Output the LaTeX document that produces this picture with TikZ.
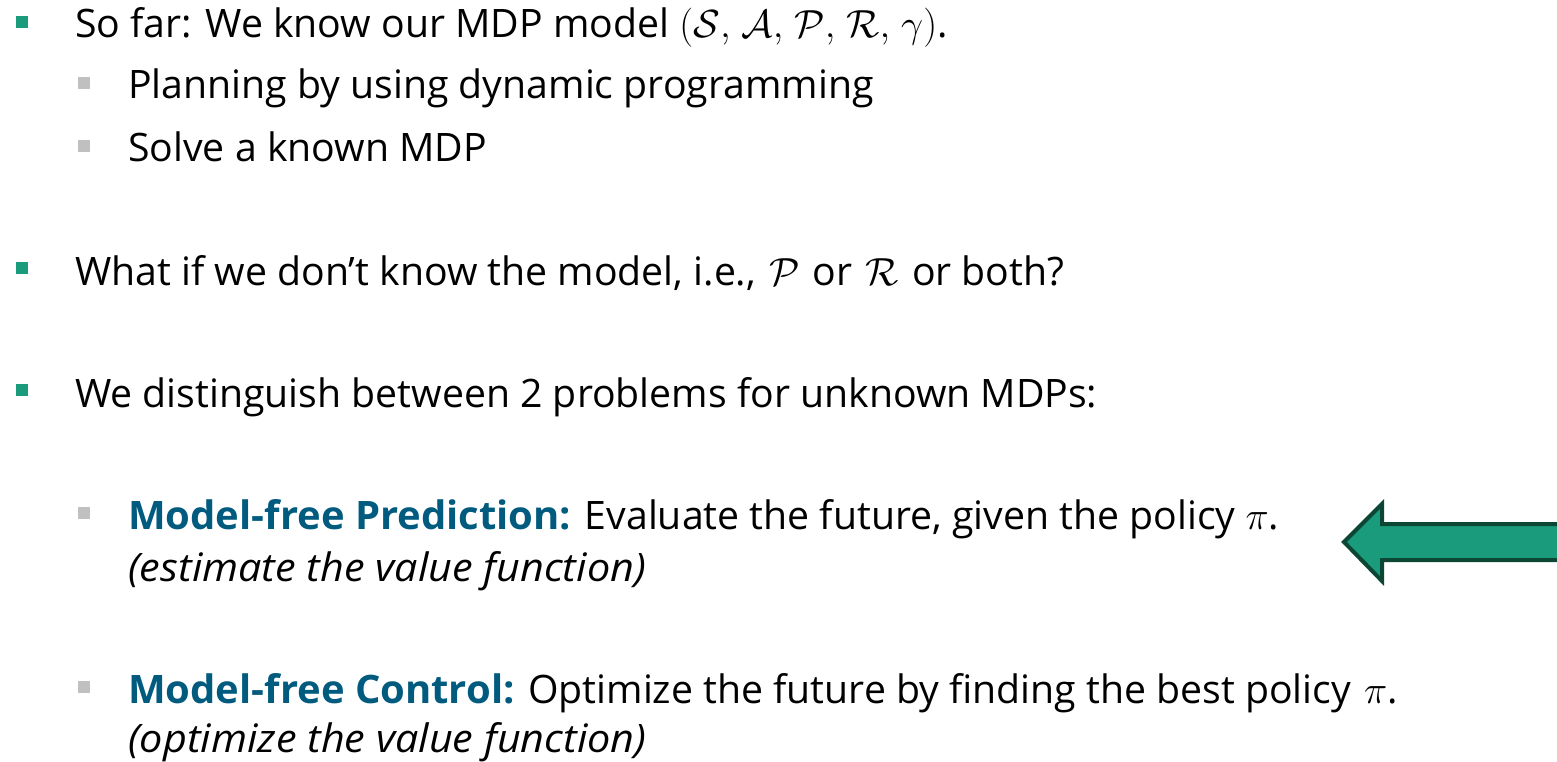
\documentclass[tikz,border=0pt]{standalone}
\usepackage{fix-cm}
\usepackage{fontspec}
\setmainfont{Open Sans}[
  BoldFeatures={FakeStretch=1.02},
  ItalicFeatures={FakeStretch=1.055}]
\definecolor{fgreen}{HTML}{1A9C7C}
\definecolor{fdark}{HTML}{0C4634}
\definecolor{fblue}{HTML}{005B7F}
\definecolor{fgray}{HTML}{C0C0C0}
% calligraphic symbol with a little air on both sides
\newcommand{\calsym}[1]{\kern3pt\relax$\mathcal{#1}$\kern3pt\relax}
\tikzset{
  txt/.style={anchor=base west, inner sep=0pt, font=\fontsize{39.2}{47}\selectfont, text=black},
  lvlone/.style={fill=fgreen, draw=none},
  lvltwo/.style={fill=fgray, draw=none},
  pointer/.style={fill=fgreen, draw=fdark, line width=4pt, line join=miter},
}
\begin{document}
\begin{tikzpicture}[x=1pt, y=-1pt]
  \clip (0,0) rectangle (1557,762);
  \fill[white] (0,0) rectangle (1557,762);

  % first-level bullets
  \fill[lvlone] (16,16) rectangle (28,28);
  \fill[lvlone] (16,262) rectangle (28,274);
  \fill[lvlone] (16,384) rectangle (28,396);
  % second-level bullets
  \fill[lvltwo] (78,77) rectangle (90,89);
  \fill[lvltwo] (78,140) rectangle (90,152);
  \fill[lvltwo] (78,507) rectangle (90,519);
  \fill[lvltwo] (78,681) rectangle (90,693);

  \node[txt] (l1) at (75,38) {So far: We know our MDP model $(\mathcal{S},\mkern2mu\mathcal{A},\mkern2mu\mathcal{P},\mkern2mu\mathcal{R},\mkern2mu\gamma)$.};
  \node[txt] (l2) at (128,99) {Planning by using dynamic programming};
  \node[txt] (l3) at (128,162) {Solve a known MDP};
  \node[txt] (l4) at (75,285) {What if we don’t know the model, i.e., \calsym{P} or \calsym{R} or both?};
  \node[txt] (l5) at (75,407) {We distinguish between 2 problems for unknown MDPs:};
  \node[txt] (l6) at (128,529) {{\color{fblue}\bfseries Model-free Prediction:} Evaluate the future, given the policy $\pi$.};
  \node[txt] (l7) at (128,581) {\itshape (estimate the value function)};
  \node[txt] (l8) at (128,703) {{\color{fblue}\bfseries Model-free Control:} Optimize the future by finding the best policy \kern3pt\relax$\pi$.};
  \node[txt] (l9) at (128,752) {\itshape (optimize the value function)};

  % block arrow pointing at the prediction item
  \draw[pointer] (1344,542) -- (1382,504) -- (1382,524) -- (1565,524)
        -- (1565,560) -- (1382,560) -- (1382,581) -- cycle;
\end{tikzpicture}
\end{document}
